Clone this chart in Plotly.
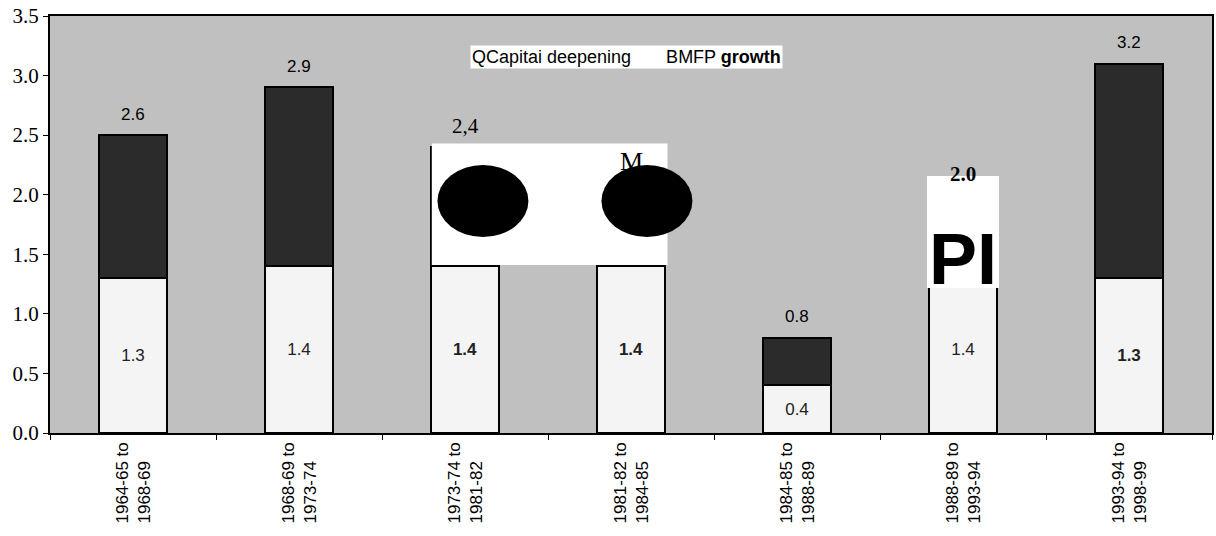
import plotly.graph_objects as go

# ---- data ----
periods = ["1964-65 to<br>1968-69", "1968-69 to<br>1973-74", "1973-74 to<br>1981-82",
           "1981-82 to<br>1984-85", "1984-85 to<br>1988-89", "1988-89 to<br>1993-94",
           "1993-94 to<br>1998-99"]
capital_deepening = [1.3, 1.4, 1.4, 1.4, 0.4, 1.4, 1.3]
mfp_growth = [1.2, 1.5, 1.0, 0.7, 0.4, 0.6, 1.8]
capital_labels = ["1.3", "1.4", "1.4", "1.4", "0.4", "1.4", "1.3"]
total_labels = ["2.6", "2.9", "2,4", "M", "0.8", "2.0", "3.2"]
y_ticks = [0.0, 0.5, 1.0, 1.5, 2.0, 2.5, 3.0, 3.5]

# ---- styles (kept separate from the data) ----
cap_bold = [False, False, True, True, False, False, True]
total_styles = [
    dict(family="Arial", size=17, bold=False),
    dict(family="Arial", size=17, bold=False),
    dict(family="Liberation Serif", size=21, bold=False),
    dict(family="Liberation Serif", size=26, bold=False),
    dict(family="Arial", size=17, bold=False),
    dict(family="Liberation Serif", size=21, bold=True),
    dict(family="Arial", size=17, bold=False),
]

fig = go.Figure()
fig.add_trace(go.Bar(
    x=periods, y=capital_deepening, name="Capital deepening",
    marker=dict(color="#f4f4f4", line=dict(color="black", width=2)),
    text=[f"<b>{t}</b>" if b else t for t, b in zip(capital_labels, cap_bold)],
    textposition="inside", insidetextanchor="middle",
    textfont=dict(family="Arial", size=17, color="#222222"),
    width=0.41, showlegend=False,
))
fig.add_trace(go.Bar(
    x=periods, y=mfp_growth, name="MFP growth",
    marker=dict(color="#2b2b2b", line=dict(color="black", width=2)),
    width=0.41, showlegend=False,
))

# total labels above each stacked bar
for i, (lab, st) in enumerate(zip(total_labels, total_styles)):
    tot = capital_deepening[i] + mfp_growth[i]
    txt = f"<b>{lab}</b>" if st["bold"] else lab
    fig.add_annotation(x=i, y=tot, xref="x", yref="y", text=txt, showarrow=False,
                       yanchor="middle", yshift=21,
                       font=dict(family=st["family"], size=st["size"], color="black"))

# category labels, rotated, lines aligned at their start (bottom)
for i, p in enumerate(periods):
    fig.add_annotation(x=i, y=0, xref="x", yref="paper", text=p, showarrow=False,
                       textangle=-90, align="left", xanchor="center", yanchor="top",
                       yshift=-8, font=dict(family="Arial", size=17, color="black"))

# legend text as it appears in the scan
fig.add_annotation(xref="paper", yref="paper", x=0.4957, y=0.93,
                   text="QCapitai deepening&nbsp;&nbsp;&nbsp;&nbsp;&nbsp;&nbsp;&nbsp;BMFP <b>growth</b>",
                   showarrow=False, bgcolor="white", borderpad=1,
                   font=dict(family="Arial", size=18, color="black"))

# scan artefacts (white patches and black blobs)
fig.add_shape(type="rect", xref="x", yref="y", x0=1.80, x1=3.22, y0=1.41, y1=2.43,
              fillcolor="white", line=dict(width=0), layer="above")
fig.add_shape(type="circle", xref="x", yref="y", x0=1.834, x1=2.382, y0=1.645, y1=2.249,
              fillcolor="black", line=dict(width=0), layer="above")
fig.add_shape(type="circle", xref="x", yref="y", x0=2.822, x1=3.37, y0=1.645, y1=2.249,
              fillcolor="black", line=dict(width=0), layer="above")
fig.add_shape(type="rect", xref="x", yref="y", x0=4.783, x1=5.217, y0=1.217, y1=2.157,
              fillcolor="white", line=dict(width=0), layer="above")
fig.add_annotation(x=5.0, y=1.46, xref="x", yref="y", text="<b>PI</b>", showarrow=False,
                   font=dict(family="Arial", size=72, color="black"))

fig.update_layout(
    width=1216, height=536,
    barmode="stack",
    paper_bgcolor="white", plot_bgcolor="#c0c0c0",
    margin=dict(l=50, r=4, t=16, b=103, autoexpand=False),
    font=dict(family="Arial", color="black"),
)
fig.update_xaxes(
    type="category", tickson="boundaries", ticks="outside", ticklen=5,
    tickcolor="black", showline=True, linecolor="black", linewidth=1.5, mirror=True,
    showgrid=False, automargin=False, showticklabels=False,
)
fig.update_yaxes(
    range=[0, 3.5], tickvals=y_ticks, tickformat=".1f", ticks="outside", ticklen=5,
    tickcolor="black", showline=True, linecolor="black", linewidth=2, mirror=True,
    showgrid=False, zeroline=False, automargin=False,
    tickfont=dict(family="Liberation Serif", size=21, color="black"),
)

fig.write_html("out.html", config={"displayModeBar": False},
               post_script="document.body.style.margin='0';document.body.style.overflow='hidden';")
